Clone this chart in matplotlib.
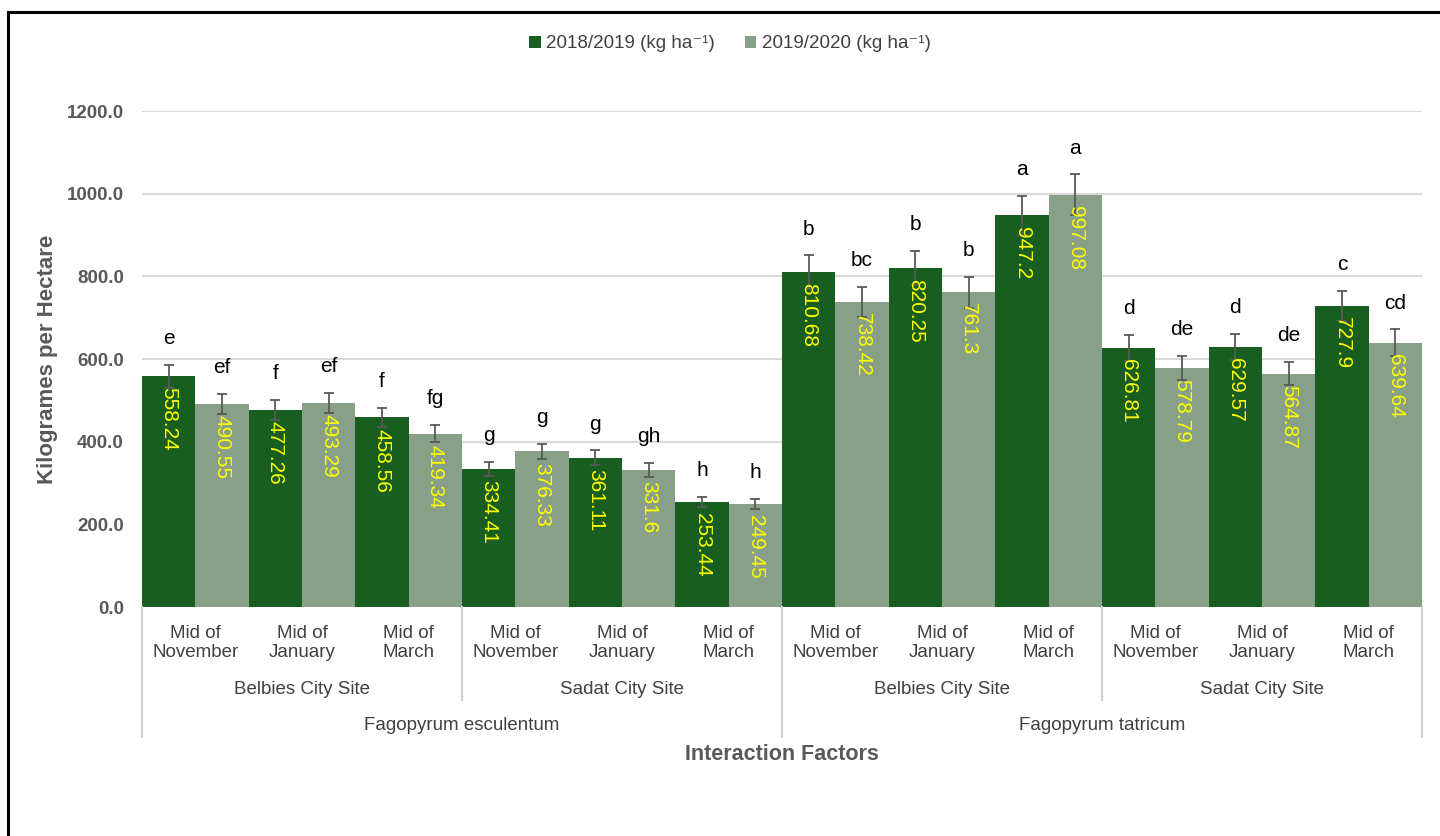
import matplotlib
matplotlib.use("Agg")
import matplotlib.pyplot as plt
import matplotlib.transforms as mtransforms
from matplotlib.patches import Patch
from matplotlib.lines import Line2D
import numpy as np

plt.rcParams['font.family'] = ['Liberation Sans', 'DejaVu Sans']

months = ["Mid of\nNovember", "Mid of\nJanuary", "Mid of\nMarch"] * 4
sites = ["Belbies City Site", "Sadat City Site", "Belbies City Site", "Sadat City Site"]
species = ["Fagopyrum esculentum", "Fagopyrum tatricum"]
series_names = ["2018/2019 (kg ha\u207b\u00b9)", "2019/2020 (kg ha\u207b\u00b9)"]

vals_2018 = [558.24, 477.26, 458.56, 334.41, 361.11, 253.44,
             810.68, 820.25, 947.2, 626.81, 629.57, 727.9]
vals_2019 = [490.55, 493.29, 419.34, 376.33, 331.6, 249.45,
             738.42, 761.3, 997.08, 578.79, 564.87, 639.64]
err_2018 = [27.9, 23.9, 22.9, 16.7, 18.1, 12.7, 40.5, 41.0, 47.4, 31.3, 31.5, 36.4]
err_2019 = [24.5, 24.7, 21.0, 18.8, 16.6, 12.5, 36.9, 38.1, 49.9, 28.9, 28.2, 32.0]
letters_2018 = ["e", "f", "f", "g", "g", "h", "b", "b", "a", "d", "d", "c"]
letters_2019 = ["ef", "ef", "fg", "g", "gh", "h", "bc", "b", "a", "de", "de", "cd"]
yticks = [0, 200, 400, 600, 800, 1000, 1200]

c1 = "#185E20"
c2 = "#889F88"
ecol = "#595959"
W, H = 1440, 836

fig = plt.figure(figsize=(14.4, 8.36), dpi=100)
ax = fig.add_axes([142 / W, (H - 607) / H, (1422 - 142) / W, (607 - 111) / H])

x = np.arange(len(vals_2018))
bw = 0.5
for xs, vals, errs, col, lets in [(x - bw / 2, vals_2018, err_2018, c1, letters_2018),
                                  (x + bw / 2, vals_2019, err_2019, c2, letters_2019)]:
    ax.bar(xs, vals, width=bw, color=col, zorder=2)
    ax.errorbar(xs, vals, yerr=errs, fmt='none', ecolor=ecol, elinewidth=1.3,
                capsize=3.5, capthick=1.3, zorder=3)
    for xi, v, e, l in zip(xs, vals, errs, lets):
        ax.annotate(f"{v:g}", (xi, v), xytext=(0, -8), textcoords='offset points',
                    rotation=-90, ha='center', va='top', color='#FFFF00',
                    fontsize=15, zorder=4)
        ax.annotate(l, (xi, v + e), xytext=(0, 12), textcoords='offset points',
                    ha='center', va='bottom', color='black', fontsize=15, zorder=4)

ax.set_xlim(-0.5, len(x) - 0.5)
ax.set_ylim(0, 1200)
ax.set_yticks(yticks)
ax.set_yticklabels([f"{t:.1f}" for t in yticks], fontsize=13.5, fontweight='bold', color='#595959')
ax.tick_params(axis='y', length=0, pad=13)
ax.set_xticks([])
ax.grid(axis='y', color='#D9D9D9', linewidth=1.5, zorder=0)
ax.set_axisbelow(True)
for s in ax.spines.values():
    s.set_visible(False)
ax.axhline(0, color='#D9D9D9', linewidth=1.5, zorder=1)
ax.set_facecolor('none')

ax.set_ylabel("Kilogrames per Hectare", fontsize=16, fontweight='bold', color='#595959')
ax.yaxis.set_label_coords((58 - 142) / (1422 - 142), 0.5)

trans = mtransforms.blended_transform_factory(ax.transData, fig.transFigure)
lab_col = '#404040'
for xi, m in zip(x, months):
    ax.text(xi, (H - 643) / H, m, transform=trans, ha='center', va='center',
            fontsize=13.5, color=lab_col, linespacing=1.2, clip_on=False)
for i, s in enumerate(sites):
    ax.text(3 * i + 1, (H - 690) / H, s, transform=trans, ha='center', va='center',
            fontsize=13.5, color=lab_col, clip_on=False)
for i, s in enumerate(species):
    ax.text(6 * i + 2.5, (H - 725) / H, s, transform=trans, ha='center', va='center',
            fontsize=13.5, color=lab_col, clip_on=False)

for k in range(5):
    xb = 3 * k - 0.5
    ybot = 737 if k % 2 == 0 else 700
    ax.add_line(Line2D([xb, xb], [(H - 607) / H, (H - ybot) / H], transform=trans,
                       color='#D0D0D0', linewidth=1.5, clip_on=False))

fig.text(782 / W, (H - 755) / H, "Interaction Factors", ha='center', va='center',
         fontsize=15.5, fontweight='bold', color='#595959')

handles = [Patch(facecolor=c1), Patch(facecolor=c2)]
fig.legend(handles, series_names, loc='center', bbox_to_anchor=(730 / W, (H - 44) / H),
           ncol=2, frameon=False, fontsize=13.5, handlelength=0.6, handleheight=0.6,
           handletextpad=0.3, columnspacing=1.6, labelcolor='#404040')

# outer border (left and top)
fig.add_artist(Line2D([8 / W, 8 / W], [0, (H - 12) / H], transform=fig.transFigure,
                      color='black', linewidth=2.2))
fig.add_artist(Line2D([8 / W, 1], [(H - 12) / H, (H - 12) / H], transform=fig.transFigure,
                      color='black', linewidth=2.2))

fig.savefig("out.png", dpi=100)
